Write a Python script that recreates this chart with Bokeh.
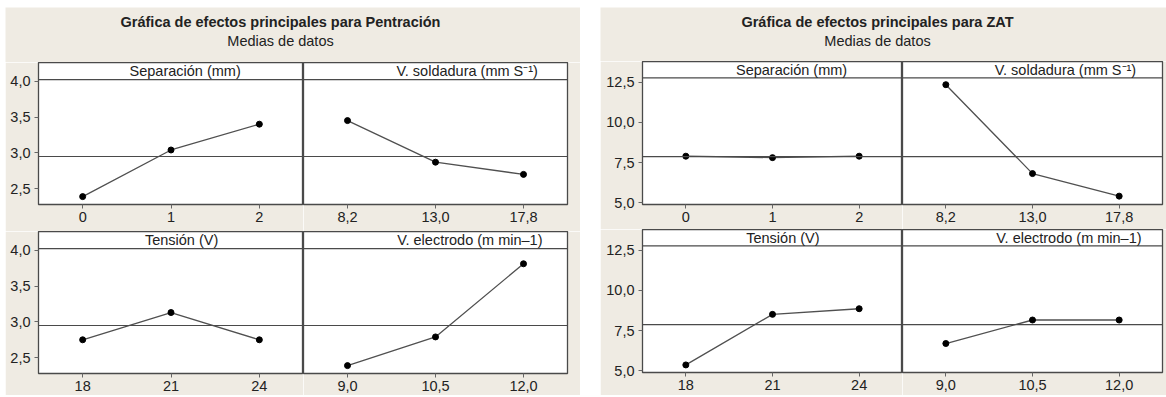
from bokeh.plotting import figure
from bokeh.layouts import row, column
from bokeh.models import FactorRange, Range1d, Span, Label, FixedTicker, CustomJSTickFormatter, Spacer
from bokeh.embed import file_html
from bokeh.resources import INLINE
from bokeh.core.properties import value

# ---------------- data ----------------
pen_title = "Gráfica de efectos principales para Pentración"
zat_title = "Gráfica de efectos principales para ZAT"
subtitle = "Medias de datos"

factor_names = ["Separación (mm)", "V. soldadura (mm S⁻¹)", "Tensión (V)", "V. electrodo (m min–1)"]
sep_levels = ["0", "1", "2"]
vsold_levels = ["8,2", "13,0", "17,8"]
tension_levels = ["18", "21", "24"]
velec_levels = ["9,0", "10,5", "12,0"]

pen_sep = [2.39, 3.04, 3.40]
pen_vsold = [3.45, 2.87, 2.70]
pen_tension = [2.75, 3.13, 2.75]
pen_velec = [2.39, 2.79, 3.81]
pen_mean = 2.95
pen_yticks = [2.5, 3.0, 3.5, 4.0]

zat_sep = [7.90, 7.81, 7.90]
zat_vsold = [12.34, 6.82, 5.42]
zat_tension = [5.37, 8.51, 8.86]
zat_velec = [6.70, 8.16, 8.16]
zat_mean = 7.87
zat_yticks = [5.0, 7.5, 10.0, 12.5]

# ---------------- style ----------------
BEIGE = "#EFEBE3"
DARK = "#4a4a4a"
FONT = "Liberation Sans"
FS = "14.5px"


def subplot(levels, vals, mean, yr, strip_y, label, label_x, yticks, show_y,
            fw, fh, mbl, mbr, mbb):
    p = figure(x_range=FactorRange(factors=levels, range_padding=0),
               y_range=Range1d(*yr), frame_width=fw, frame_height=fh,
               output_backend="svg", toolbar_location=None,
               y_axis_location="left" if show_y else None,
               min_border_left=mbl, min_border_right=mbr,
               min_border_top=0, min_border_bottom=mbb)
    p.background_fill_color = "white"
    p.border_fill_color = BEIGE
    p.outline_line_color = DARK
    p.outline_line_width = 1.3
    p.grid.visible = False

    p.xaxis.axis_line_color = None
    p.xaxis.major_tick_out = 4
    p.xaxis.major_tick_in = 0
    p.xaxis.major_tick_line_color = "#666666"
    p.xaxis.major_label_standoff = 3
    p.xaxis.major_label_text_font = FONT
    p.xaxis.major_label_text_font_size = FS
    p.xaxis.major_label_text_color = "#222222"
    if show_y:
        p.yaxis.ticker = FixedTicker(ticks=yticks)
        p.yaxis.formatter = CustomJSTickFormatter(code="return tick.toFixed(1).replace('.', ',');")
        p.yaxis.axis_line_color = None
        p.yaxis.major_tick_out = 4
        p.yaxis.major_tick_in = 0
        p.yaxis.minor_tick_line_color = None
        p.yaxis.major_tick_line_color = "#666666"
        p.yaxis.major_label_standoff = 4
        p.yaxis.major_label_text_font = FONT
        p.yaxis.major_label_text_font_size = FS
        p.yaxis.major_label_text_color = "#222222"

    p.add_layout(Span(location=strip_y, dimension="width", line_color=DARK, line_width=1.2))
    p.add_layout(Span(location=mean, dimension="width", line_color=DARK, line_width=1.1))
    p.add_layout(Label(x=label_x, y=(strip_y + yr[1]) / 2, text=label,
                       text_align="center", text_baseline="middle",
                       text_font=FONT, text_font_size=FS, text_color="#222222"))

    p.line(x=levels, y=vals, line_color="#505050", line_width=1.3)
    p.scatter(x=levels, y=vals, size=6, color="black")
    return p


def title_fig(w, h, title, cx, ty, sy):
    p = figure(width=w, height=h, x_range=Range1d(0, w), y_range=Range1d(h, 0),
               output_backend="svg", toolbar_location=None,
               x_axis_location=None, y_axis_location=None,
               min_border=0)
    p.background_fill_color = BEIGE
    p.border_fill_color = BEIGE
    p.outline_line_color = None
    p.grid.visible = False
    p.text(x=[cx], y=[ty], text=[title], text_font=value(FONT), text_font_style="bold",
           text_font_size=FS, text_align="center", text_baseline="middle", text_color="#222222")
    p.text(x=[cx], y=[sy], text=[subtitle], text_font=value(FONT),
           text_font_size=FS, text_align="center", text_baseline="middle", text_color="#222222")
    return p


# ---------------- left panel (Penetración) ----------------
pyr = (2.28, 4.26)
pstrip = 4.02
lt = title_fig(575, 55, pen_title, 275, 14, 33)
l1 = subplot(sep_levels, pen_sep, pen_mean, pyr, pstrip, factor_names[0], 1.66, pen_yticks, True, 265, 142, 33, 0, 27)
l2 = subplot(vsold_levels, pen_vsold, pen_mean, pyr, pstrip, factor_names[1], 1.86, pen_yticks, False, 264, 142, 0, 13, 27)
l3 = subplot(tension_levels, pen_tension, pen_mean, pyr, pstrip, factor_names[2], 1.62, pen_yticks, True, 265, 142, 33, 0, 22)
l4 = subplot(velec_levels, pen_velec, pen_mean, pyr, pstrip, factor_names[3], 1.89, pen_yticks, False, 264, 142, 0, 13, 22)
left_col = column(lt, row(l1, l2), row(l3, l4))

# ---------------- right panel (ZAT) ----------------
zyr = (4.9, 13.78)
zstrip = 12.76
rt = title_fig(566, 54, zat_title, 277, 14, 33)
r1 = subplot(sep_levels, zat_sep, zat_mean, zyr, zstrip, factor_names[0], 1.72, zat_yticks, True, 260, 143, 42, 0, 25)
r2 = subplot(vsold_levels, zat_vsold, zat_mean, zyr, zstrip, factor_names[1], 1.88, zat_yticks, False, 260, 143, 0, 4, 25)
r3 = subplot(tension_levels, zat_tension, zat_mean, zyr, zstrip, factor_names[2], 1.62, zat_yticks, True, 260, 143, 42, 0, 23)
r4 = subplot(velec_levels, zat_velec, zat_mean, zyr, zstrip, factor_names[3], 1.92, zat_yticks, False, 260, 143, 0, 4, 23)
right_col = column(rt, row(r1, r2), row(r3, r4))

page = column(Spacer(height=7), row(Spacer(width=5), left_col, Spacer(width=20), right_col))

open("out.html", "w").write(file_html(page, INLINE))
